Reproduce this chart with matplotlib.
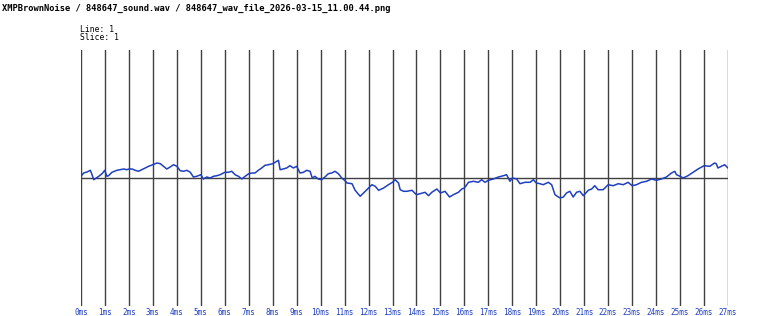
import matplotlib
matplotlib.use('Agg')
import matplotlib.pyplot as plt

title = 'XMPBrownNoise / 848647_sound.wav / 848647_wav_file_2026-03-15_11.00.44.png'
info_lines = ['Line: 1', 'Slice: 1']

# time in ms, amplitude in 8-bit sample units (full scale +-128)
time_ms = [0.00, 0.11, 0.25, 0.39, 0.46, 0.53, 0.64, 0.74, 0.88, 0.99,
           1.08, 1.15, 1.29, 1.50, 1.64, 1.78, 1.92, 2.00, 2.13, 2.26,
           2.40, 2.54, 2.68, 2.82, 3.00, 3.17, 3.31, 3.44, 3.58, 3.72,
           3.86, 4.00, 4.14, 4.28, 4.42, 4.56, 4.69, 4.83, 5.00, 5.11,
           5.25, 5.39, 5.53, 5.67, 5.81, 6.00, 6.15, 6.29, 6.43, 6.57,
           6.71, 6.85, 7.00, 7.13, 7.26, 7.40, 7.54, 7.68, 7.82, 8.00,
           8.17, 8.24, 8.31, 8.44, 8.58, 8.72, 8.86, 9.00, 9.14, 9.28,
           9.42, 9.56, 9.65, 9.76, 9.90, 10.04, 10.18, 10.32, 10.46, 10.60,
           10.74, 10.88, 11.00, 11.10, 11.31, 11.44, 11.65, 11.79, 12.00, 12.14,
           12.28, 12.42, 12.63, 12.83, 13.00, 13.11, 13.25, 13.32, 13.46, 13.60,
           13.81, 14.00, 14.15, 14.36, 14.50, 14.64, 14.85, 15.00, 15.19, 15.38,
           15.54, 15.75, 15.89, 16.00, 16.17, 16.38, 16.58, 16.72, 16.86, 17.00,
           17.21, 17.42, 17.63, 17.76, 17.90, 18.00, 18.18, 18.32, 18.53, 18.74,
           18.88, 19.00, 19.15, 19.29, 19.50, 19.64, 19.78, 19.92, 20.00, 20.13,
           20.26, 20.40, 20.54, 20.68, 20.82, 20.96, 21.17, 21.31, 21.44, 21.58,
           21.79, 22.00, 22.21, 22.42, 22.63, 22.83, 23.00, 23.18, 23.39, 23.60,
           23.81, 24.01, 24.22, 24.43, 24.64, 24.78, 24.85, 25.00, 25.13, 25.33,
           25.54, 25.75, 26.00, 26.24, 26.44, 26.51, 26.58, 26.72, 26.86, 27.00]
amplitude = [1.7, 5.0, 6.0, 7.7, 3.3, -1.7, 0.0, 1.7, 4.3, 7.7,
             1.7, 2.3, 5.7, 7.7, 8.3, 9.0, 8.3, 9.0, 9.0, 7.7,
             6.7, 8.3, 10.0, 11.7, 13.3, 15.0, 14.3, 11.7, 9.0, 11.0,
             13.3, 11.7, 7.3, 6.7, 7.7, 5.7, 1.0, 1.7, 3.3, -1.0,
             1.0, 0.0, 1.7, 2.3, 3.3, 5.7, 5.7, 6.7, 3.3, 1.7,
             -1.0, 1.7, 4.3, 5.0, 5.0, 7.7, 10.0, 12.7, 13.3, 14.3,
             16.7, 17.7, 8.3, 9.0, 10.0, 12.3, 10.0, 11.7, 5.0, 5.7,
             7.7, 6.7, 0.0, 1.7, -1.0, -1.7, 1.0, 4.3, 5.0, 6.7,
             4.3, 0.0, -2.3, -5.0, -5.7, -12.3, -18.3, -15.0, -10.0, -6.7,
             -8.3, -12.3, -10.0, -6.7, -4.3, -1.7, -5.0, -11.7, -13.3, -13.3,
             -12.3, -16.7, -15.7, -14.3, -17.7, -14.3, -11.0, -15.0, -13.3, -19.0,
             -16.7, -14.3, -11.0, -10.0, -4.3, -3.3, -4.3, -1.7, -4.3, -2.3,
             -1.0, 1.0, 2.3, 3.3, -3.3, 0.0, -1.0, -5.7, -4.3, -4.3,
             -1.7, -5.0, -5.7, -6.7, -4.3, -6.7, -16.7, -19.0, -20.0, -19.0,
             -15.0, -13.3, -19.0, -14.3, -13.3, -17.7, -12.3, -11.0, -7.7, -11.7,
             -11.7, -6.7, -7.7, -5.7, -6.7, -4.3, -7.7, -6.7, -4.3, -3.3,
             -1.0, -2.3, -1.0, 1.0, 5.0, 6.7, 3.3, 1.7, 0.0, 2.3,
             5.7, 9.0, 12.3, 11.7, 15.0, 14.3, 10.0, 11.7, 13.3, 10.0]

ticks = list(range(28))
tick_labels = ['%dms' % t for t in ticks]

grid_color = '#404040'
wave_color = '#1f3fbf'

fig = plt.figure(figsize=(7.68, 3.16), dpi=100)
ax = fig.add_axes([81 / 768, 1 - 306 / 316, (728 - 81) / 768, 256 / 316])

for t in ticks:
    ax.axvline(t, color=grid_color, lw=1.0, zorder=1)
ax.axhline(0, color=grid_color, lw=1.0, zorder=1)
ax.plot(time_ms, amplitude, color=wave_color, lw=1.1, zorder=2)

ax.set_xlim(0, 27)
ax.set_ylim(-128, 128)
ax.set_yticks([])
ax.set_xticks(ticks)
ax.set_xticklabels(tick_labels, fontsize=5.5, color=wave_color,
                   family='DejaVu Sans Mono')
ax.tick_params(axis='x', length=0, pad=1.5)
for s in ax.spines.values():
    s.set_visible(False)
ax.margins(0)

fig.text(2 / 768, 1 - 8 / 316, title, fontsize=6.3, weight='bold',
         family='DejaVu Sans Mono', va='center', ha='left')
fig.text(80 / 768, 1 - 29 / 316, info_lines[0], fontsize=5.8,
         family='DejaVu Sans Mono', va='center', ha='left')
fig.text(80 / 768, 1 - 38 / 316, info_lines[1], fontsize=5.8,
         family='DejaVu Sans Mono', va='center', ha='left')

fig.savefig('out.png', dpi=100)
